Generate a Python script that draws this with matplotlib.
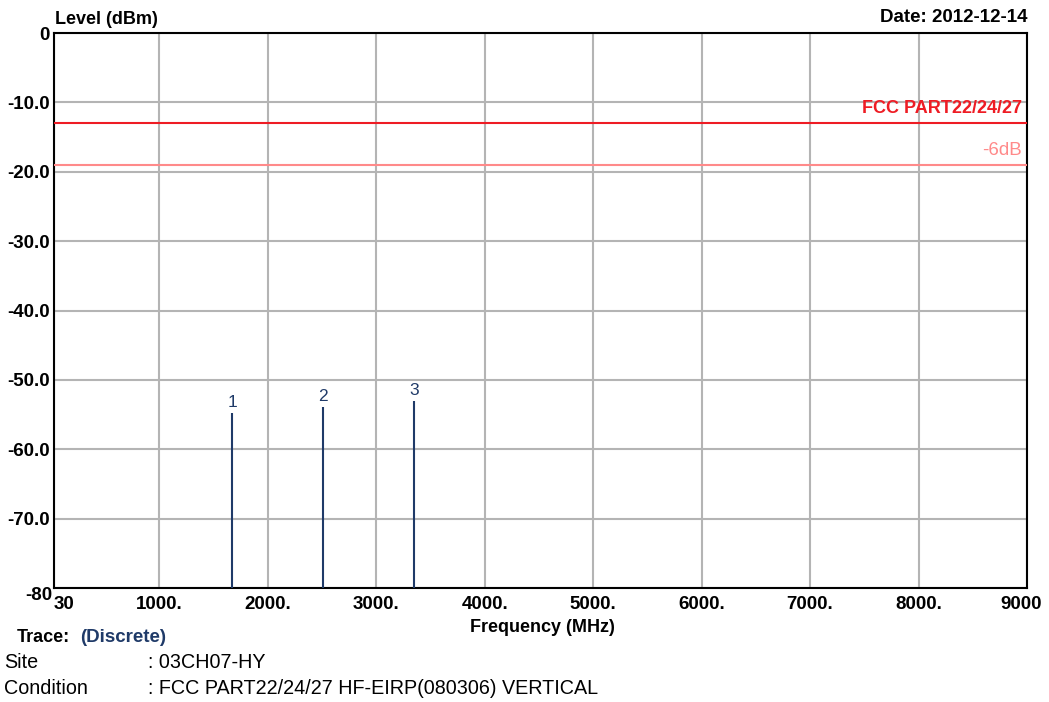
import matplotlib
matplotlib.use("Agg")
import matplotlib.pyplot as plt
from matplotlib.transforms import ScaledTranslation

plt.rcParams['font.family'] = ['Liberation Sans', 'DejaVu Sans']

# Spurious emission peaks (harmonics of the carrier)
marker_ids = ["1", "2", "3"]
marker_freq_mhz = [1673.2, 2509.8, 3346.4]
marker_level_dbm = [-54.8, -53.9, -53.0]

# Limit lines
limit_level = -13.0
limit_label = "FCC PART22/24/27"
margin_level = -19.0
margin_label = "-6dB"

x_min, x_max = 30, 9000
y_min, y_max = -80, 0
x_ticks = [30, 1000, 2000, 3000, 4000, 5000, 6000, 7000, 8000, 9000]
x_tick_labels = ["30", "1000.", "2000.", "3000.", "4000.", "5000.", "6000.", "7000.", "8000.", "9000"]
y_ticks = [0, -10, -20, -30, -40, -50, -60, -70, -80]
y_tick_labels = ["0", "-10.0", "-20.0", "-30.0", "-40.0", "-50.0", "-60.0", "-70.0", "-80"]

trace_color = "#1F3A68"
limit_color = "#EE1C24"
margin_color = "#FF8A8A"
grid_color = "#B4B4B4"

W, H = 1049, 702
fig = plt.figure(figsize=(W / 100, H / 100), dpi=100)
ax = fig.add_axes([54 / W, 1 - 588 / H, 973 / W, 555 / H])

ax.set_xlim(x_min, x_max)
ax.set_ylim(y_min, y_max)
ax.set_xticks(x_ticks)
ax.set_yticks(y_ticks)
ax.set_xticklabels(x_tick_labels, fontsize=13.5, fontweight="bold")
ax.set_yticklabels(y_tick_labels, fontsize=13.5, fontweight="bold")
ax.tick_params(axis="x", length=0, pad=6)
ax.tick_params(axis="y", length=0, pad=3)

# End labels sit at the corners of the frame
xt = ax.get_xticklabels()
xt[0].set_horizontalalignment("left")
xt[-1].set_transform(xt[-1].get_transform() + ScaledTranslation(-6 / 100, 0, fig.dpi_scale_trans))
yt = ax.get_yticklabels()
yt[-1].set_transform(yt[-1].get_transform() + ScaledTranslation(3 / 100, -6 / 100, fig.dpi_scale_trans))

ax.grid(True, color=grid_color, linewidth=1.5)
ax.set_axisbelow(True)
for s in ax.spines.values():
    s.set_linewidth(1.5)
    s.set_color("black")

# Limit and margin lines
ax.axhline(limit_level, color=limit_color, linewidth=1.5, zorder=3)
ax.axhline(margin_level, color=margin_color, linewidth=1.5, zorder=3)
ax.text(x_max - 50, limit_level + 0.9, limit_label, color=limit_color,
        fontsize=13, fontweight="bold", ha="right", va="bottom")
ax.text(x_max - 50, margin_level + 0.9, margin_label, color=margin_color,
        fontsize=13.5, ha="right", va="bottom")

# Discrete trace peaks
ax.vlines(marker_freq_mhz, y_min, marker_level_dbm, color=trace_color, linewidth=1.5, zorder=4)
for mid, f, lv in zip(marker_ids, marker_freq_mhz, marker_level_dbm):
    ax.text(f, lv + 0.4, mid, color=trace_color, fontsize=12.5, ha="center", va="bottom")

# Header and footer texts
fig.text(55 / W, 1 - 19 / H, "Level (dBm)", fontsize=13, fontweight="bold", ha="left", va="center")
fig.text(1028 / W, 1 - 17 / H, "Date: 2012-12-14", fontsize=13.5, fontweight="bold", ha="right", va="center")
fig.text(542 / W, 1 - 627 / H, "Frequency (MHz)", fontsize=13, fontweight="bold", ha="center", va="center")

fig.text(17 / W, 1 - 637 / H, "Trace:", fontsize=13, fontweight="bold", ha="left", va="center")
fig.text(80 / W, 1 - 637 / H, "(Discrete)", fontsize=13.5, fontweight="bold", color=trace_color,
         ha="left", va="center")
fig.text(4 / W, 1 - 662 / H, "Site", fontsize=14.2, ha="left", va="center")
fig.text(148 / W, 1 - 662 / H, ": 03CH07-HY", fontsize=14.2, ha="left", va="center")
fig.text(4 / W, 1 - 688 / H, "Condition", fontsize=14.2, ha="left", va="center")
fig.text(148 / W, 1 - 688 / H, ": FCC PART22/24/27 HF-EIRP(080306) VERTICAL", fontsize=14.2,
         ha="left", va="center")

fig.savefig("out.png", dpi=100)
